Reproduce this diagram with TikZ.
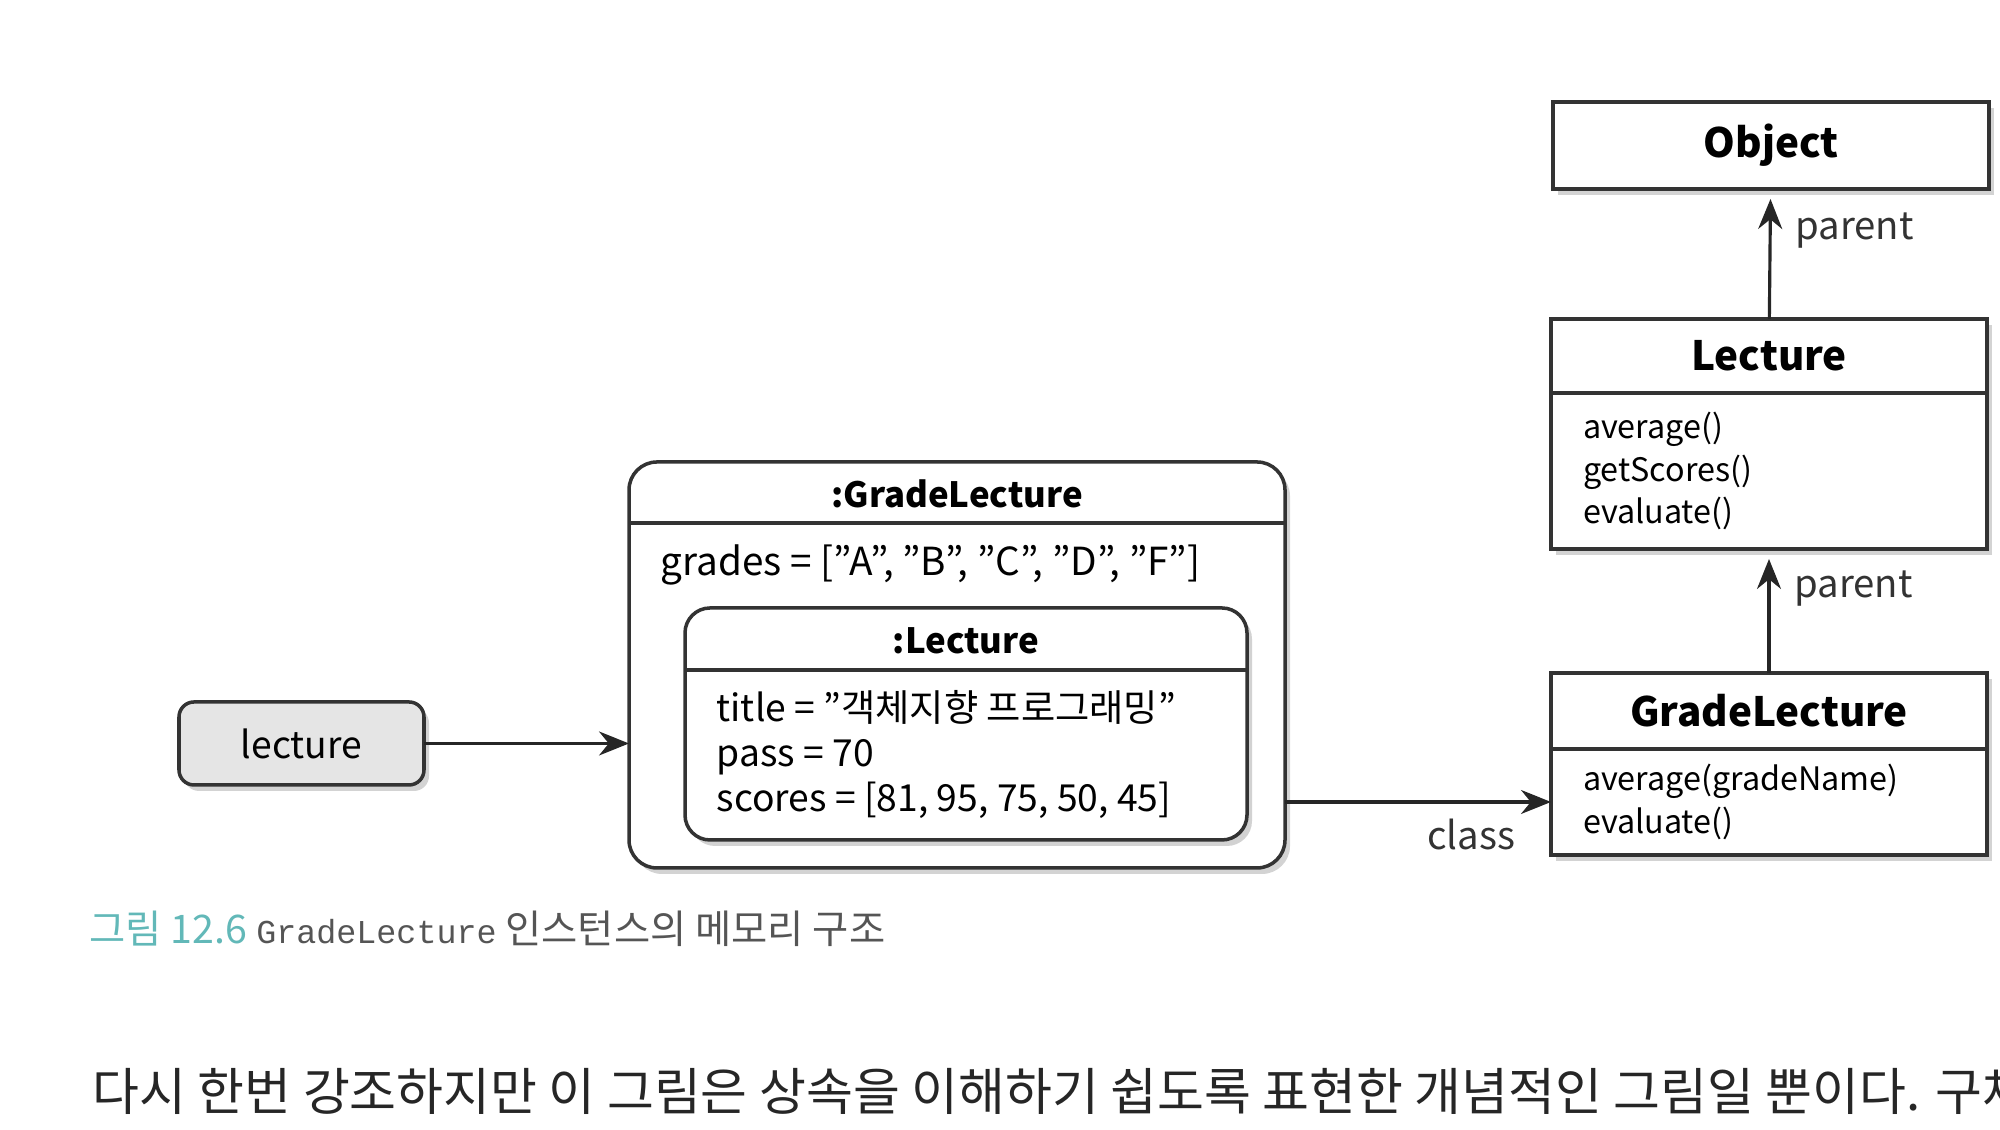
\documentclass[tikz,border=0pt]{standalone}
\usepackage{fontspec}
\setmainfont{Noto Sans CJK KR}
\setmonofont{Liberation Mono}
\usetikzlibrary{arrows.meta,shadows,positioning}
\definecolor{boxline}{HTML}{333333}
\definecolor{capteal}{HTML}{62B8B8}
\definecolor{captext}{HTML}{555555}
\begin{document}
\begin{tikzpicture}[
    boxshadow/.style={
        drop shadow={shadow xshift=0.05cm, shadow yshift=-0.06cm, opacity=0.35}
    },
    classhead/.style={
        rectangle,
        minimum width=4.36cm,
        minimum height=0.75cm,
        outer sep=0pt,
        draw=boxline,
        line width=0.9pt,
        fill=white,
        boxshadow,
        font=\fontsize{11.5}{13}\selectfont\bfseries
    },
    classbody/.style={
        rectangle,
        text width=3.72cm,
        inner xsep=0.32cm,
        outer sep=0pt,
        align=left,
        draw=boxline,
        line width=0.9pt,
        fill=white,
        boxshadow,
        font=\fontsize{9.2}{12}\selectfont
    },
    objbox/.style={
        rectangle,
        rounded corners=0.28cm,
        outer sep=0pt,
        draw=boxline,
        line width=1pt,
        fill=white,
        boxshadow
    },
    objtitle/.style={font=\fontsize{9.9}{12}\selectfont\bfseries},
    attr/.style={font=\fontsize{10.6}{12.8}\selectfont, align=left, inner sep=0pt},
    link/.style={-{Stealth[length=0.3cm, width=0.24cm]}, line width=0.9pt, black!85},
    linklabel/.style={font=\fontsize{10.9}{13}\selectfont, text=boxline}
]
\useasboundingbox (0,0) rectangle (20,11.3);
\clip (0,0) rectangle (20,11.3);

% Classes
\node[classhead, minimum height=0.87cm] (object) at (17.71,9.845) {Object};
\node[classhead, minimum height=0.74cm] (lehead) at (17.69,7.74) {Lecture};
\node[classbody, minimum height=1.56cm, below=0pt of lehead] (lebody) {average()\\getScores()\\evaluate()};
\node[classhead, minimum height=0.76cm] (glhead) at (17.69,4.19) {GradeLecture};
\node[classbody, minimum height=1.06cm, below=0pt of glhead] (glbody) {average(gradeName)\\evaluate()};

% Instance
\node[objbox, minimum width=6.56cm, minimum height=4.06cm] (gobj) at (9.57,4.65) {};
\draw[boxline, line width=1pt] ([yshift=-0.61cm]gobj.north west) -- ([yshift=-0.61cm]gobj.north east);
\node[objtitle] (gobjtitle) at (9.57,6.36) {:GradeLecture};
\node[attr, anchor=west, font=\fontsize{11}{12.8}\selectfont] (grades) at (6.60,5.65) {grades = ["A", "B", "C", "D", "F"]};

\node[objbox, minimum width=5.62cm, minimum height=2.32cm, rounded corners=0.25cm] (lobj) at (9.66,4.06) {};
\draw[boxline, line width=1pt] ([yshift=-0.62cm]lobj.north west) -- ([yshift=-0.62cm]lobj.north east);
\node[objtitle] (lobjtitle) at (9.66,4.89) {:Lecture};
\node[attr, anchor=west] (lobjattr) at (7.16,3.75) {title = "객체지향 프로그래밍"\\pass = 70\\scores = [81, 95, 75, 50, 45]};

% Variable
\node[rectangle, rounded corners=0.15cm, draw=boxline, line width=1pt, fill=black!10, boxshadow, outer sep=0pt,
      minimum width=2.45cm, minimum height=0.83cm, font=\fontsize{10.6}{13}\selectfont] (lvar) at (3.015,3.865) {lecture};

% Arrows
\draw[link] (lvar.east) -- (lvar.east -| gobj.west);
\draw[link] (glbody.west -| gobj.east) -- (glbody.west) node[linklabel, pos=0.7, below=1pt] {class};
\draw[link, shorten >=0.1cm] (glhead) -- (lebody) node[linklabel, pos=0.68, right=0.12cm] {parent};
\draw[link, shorten >=0.1cm] (lehead) -- (object) node[linklabel, pos=0.68, right=0.12cm] {parent};

% Caption and text
\node[anchor=west, inner sep=0pt, font=\fontsize{11.2}{12}\selectfont] (caption) at (0.89,2.01)
    {\textcolor{capteal}{그림 12.6} \textcolor{captext}{\texttt{\fontsize{9.5}{12}\selectfont GradeLecture} 인스턴스의 메모리 구조}};
\node[anchor=west, inner sep=0pt, font=\fontsize{14.5}{16}\selectfont, text=black!85] (bodytext) at (0.92,0.39)
    {다시 한번 강조하지만 이 그림은 상속을 이해하기 쉽도록 표현한 개념적인 그림일 뿐이다. 구체};

\end{tikzpicture}
\end{document}
